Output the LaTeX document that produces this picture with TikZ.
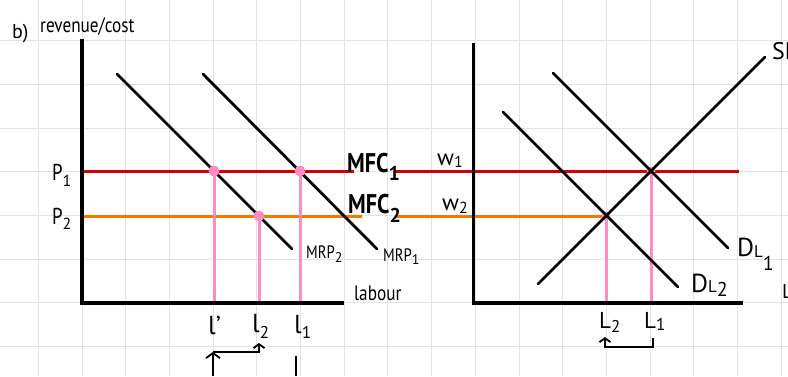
\documentclass[tikz,border=0pt]{standalone}
\usepackage{fontspec}
\setmainfont{PT Sans}
\usepackage{graphicx}
\usetikzlibrary{arrows.meta}
\definecolor{gridgray}{HTML}{E3E3E3}
\definecolor{mfcred}{HTML}{D10000}
\definecolor{mfcorange}{HTML}{FF7400}
\definecolor{linkpink}{HTML}{FF8DC1}
\newcommand{\lowsub}[2][5pt]{\raisebox{-#1}{#2}}
\newcommand{\fsz}[1]{\fontsize{#1}{#1}\selectfont}
\newcommand{\narrow}[1]{\scalebox{0.82}[1]{#1}}
\begin{document}
\begin{tikzpicture}[x=1pt,y=-1pt,
 gridline/.style={gridgray, line width=1pt},
 axisline/.style={black, line width=3.2pt},
 curve/.style={black, line width=2.8pt, line cap=round},
 costred/.style={mfcred, line width=3pt},
 costorange/.style={mfcorange, line width=3pt},
 dropline/.style={linkpink, line width=3pt},
 dotmark/.style={circle, fill=linkpink, inner sep=0pt, minimum size=11pt},
 smalldot/.style={circle, fill=linkpink, inner sep=0pt, minimum size=9pt},
 lbl/.style={inner sep=0pt, anchor=base west},
 shiftarrow/.style={black, line width=1.8pt, -{Straight Barb[length=5pt,width=14pt]}},
 smallarrow/.style={black, line width=1.8pt, line join=miter, -{Straight Barb[length=4pt,width=11pt]}},
]
\useasboundingbox (0,0) rectangle (788,376);
\clip (0,0) rectangle (788,376);
\fill[white] (0,0) rectangle (788,376);
% grid
\foreach \k in {0,...,17} \draw[gridline] ({38.3+43.7*\k},0) -- ({38.3+43.7*\k},376);
\foreach \k in {1,...,8} \draw[gridline] (0,{-3+43.7*\k}) -- (788,{-3+43.7*\k});

% coordinates
\coordinate (O1) at (82,303);
\coordinate (Y1) at (82,39);
\coordinate (X1) at (344,303);
\coordinate (O2) at (473.5,303);
\coordinate (Y2) at (473.5,43);
\coordinate (X2) at (743,303);
\coordinate (mrpTwoA) at (117,74);
\coordinate (mrpTwoB) at (292,249);
\coordinate (mrpOneA) at (203,74);
\coordinate (mrpOneB) at (377,249);
\coordinate (dlOneA) at (553,73);
\coordinate (dlOneB) at (728,248);
\coordinate (dlTwoA) at (503,112);
\coordinate (dlTwoB) at (678,287);
\coordinate (slA) at (538,284);
\coordinate (slB) at (765,57);
\coordinate (rA) at (82,171);
\coordinate (rB) at (354,171);
\coordinate (rC) at (395,171);
\coordinate (rD) at (739,171);
\coordinate (oA) at (82,216);
\coordinate (oB) at (362,216);
\coordinate (oC) at (395,216);
\coordinate (eTwo) at (606,216);
\coordinate (eOne) at (651,171);
\coordinate (lpA) at (214,171);
\coordinate (ltA) at (259,216);
\coordinate (loA) at (300,171);
\coordinate (lpB) at (214,303);
\coordinate (ltB) at (259,303);
\coordinate (loB) at (300,303);
\coordinate (LtB) at (606,303);
\coordinate (LoB) at (651,303);

% cost lines
\draw[costred] (rA) -- (rB);
\draw[costred] (rC) -- (rD);
\draw[costorange] (oA) -- (oB);
\draw[costorange] (oC) -- (eTwo);

% pink drop lines
\draw[dropline] (lpA) -- (lpB);
\draw[dropline] (ltA) -- (ltB);
\draw[dropline] (loA) -- (loB);
\draw[dropline] (eTwo) -- (LtB);
\draw[dropline] (eOne) -- (LoB);
\node[smalldot] (dotE2) at (eTwo) {};
\node[smalldot] (dotE1) at (eOne) {};

% curves
\draw[curve] (mrpTwoA) -- (mrpTwoB);
\draw[curve] (mrpOneA) -- (mrpOneB);
\draw[curve] (dlOneA) -- (dlOneB);
\draw[curve] (dlTwoA) -- (dlTwoB);
\draw[curve] (slA) -- (slB);

% left dots
\node[dotmark] (dotLp) at (lpA) {};
\node[dotmark] (dotLt) at (ltA) {};
\node[dotmark] (dotLo) at (loA) {};

% axes
\draw[axisline] (Y1) -- (O1) -- (X1);
\draw[axisline] (Y2) -- (O2) -- (X2);

% labels
\node[lbl,font=\fsz{20}] (bl) at (12,38) {b)};
\node[lbl,font=\fsz{21}] (ylab) at (40,32) {\narrow{revenue/cost}};
\node[lbl,font=\fsz{23}] (p1) at (52,180) {\narrow{P}\lowsub[6pt]{\fsz{16}1}};
\node[lbl,font=\fsz{23}] (p2) at (52,224) {\narrow{P}\lowsub[5pt]{\fsz{16}2}};
\node[lbl,font=\bfseries\fsz{27}] (mfc1) at (347,172) {\narrow{MFC}\lowsub[8pt]{\fsz{20}1}};
\node[lbl,font=\bfseries\fsz{27}] (mfc2) at (348,213) {\narrow{MFC}\lowsub[9pt]{\fsz{20}2}};
\node[lbl,font=\fsz{23}] (w1) at (437,165) {w\lowsub[2pt]{\fsz{16}1}};
\node[lbl,font=\fsz{23}] (w2) at (442,210) {w\lowsub[3pt]{\fsz{16}2}};
\node[lbl,font=\fsz{18}] (mrp2) at (306,258) {\narrow{MRP}\lowsub[4pt]{\fsz{14}2}};
\node[lbl,font=\fsz{18}] (mrp1) at (383,261) {\narrow{MRP}\lowsub[3pt]{\fsz{14}1}};
\node[lbl,font=\fsz{21}] (lab) at (354,300) {\narrow{labour}};
\node[lbl,font=\fsz{26}] (lprime) at (208,334) {l'};
\node[lbl,font=\fsz{26}] (ltwo) at (252,332) {l\lowsub[6pt]{\fsz{17}2}};
\node[lbl,font=\fsz{26}] (lone) at (294,333) {l\lowsub[5pt]{\fsz{17}1}};
\node[lbl,font=\fsz{23}] (Ltwo) at (599,328) {L\lowsub[4pt]{\fsz{17}2}};
\node[lbl,font=\fsz{23}] (Lone) at (644,328) {L\lowsub[2pt]{\fsz{17}1}};
\node[lbl,font=\fsz{26}] (dl1) at (737,256) {D\lowsub[1pt]{\fsz{17}L\lowsub[13pt]{\fsz{20}1}}};
\node[lbl,font=\fsz{26}] (dl2) at (691,292) {D\lowsub[0pt]{\fsz{17}L\lowsub[4pt]{\fsz{20}2}}};
\node[lbl,font=\fsz{24}] (sl) at (772,59) {SL};
\node[lbl,font=\fsz{20}] (lend) at (782,298) {L};

% shift arrows
\coordinate (aOneS) at (213,376);
\coordinate (aOneT) at (213,352);
\coordinate (aTwoC) at (259,352);
\coordinate (aTwoT) at (259,343);
\coordinate (tickA) at (296,356);
\coordinate (tickB) at (296,376);
\draw[shiftarrow] (aOneS) -- (aOneT);
\draw[smallarrow] (aOneT) -- (aTwoC) -- (aTwoT);
\draw[black, line width=1.8pt] (tickA) -- (tickB);
\coordinate (bS) at (653,338);
\coordinate (bC1) at (653,347);
\coordinate (bC2) at (605,347);
\coordinate (bT) at (605,337);
\draw[smallarrow] (bS) -- (bC1) -- (bC2) -- (bT);
\end{tikzpicture}
\end{document}
